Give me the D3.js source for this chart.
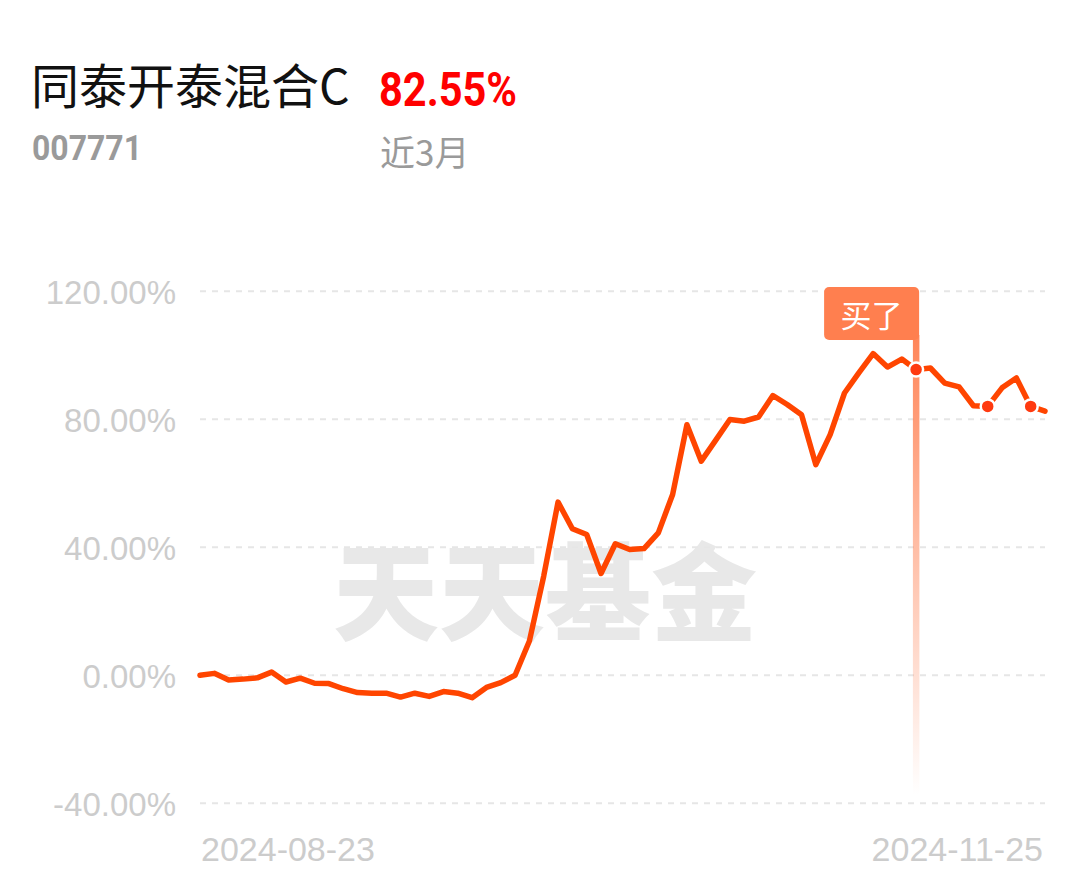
<!DOCTYPE html>
<html><head><meta charset="utf-8">
<script src="https://cdn.jsdelivr.net/npm/d3@7"></script>
<style>html,body{margin:0;padding:0;background:#fff;}svg{display:block;}</style>
</head><body>
<svg id="chart" width="1089" height="881"></svg>
<script>
// ---- data ----
const fundName = "同泰开泰混合C";
const fundCode = "007771";
const periodReturn = "82.55%";
const periodLabel = "近3月";
const dateLabels = ["2024-08-23", "2024-11-25"];
const yTicks = [-40, 0, 40, 80, 120];
const returns = [
  0.0, 0.6, -1.5, -1.2, -0.8, 1.0, -2.1, -0.9, -2.5, -2.6,
  -4.2, -5.4, -5.6, -5.6, -6.8, -5.6, -6.6, -5.1, -5.6, -7.0,
  -3.8, -2.3, 0.0, 10.7, 31.0, 54.1, 45.8, 44.0, 31.8, 41.1,
  39.3, 39.6, 44.5, 56.5, 78.3, 66.9, 73.4, 79.9, 79.4, 80.7,
  87.4, 84.6, 81.4, 65.8, 75.2, 88.2, 94.5, 100.5, 96.3, 98.8,
  95.5, 96.0, 91.3, 90.1, 84.2, 84.0, 89.8, 92.9, 84.0, 82.55
];
const buyIndex = 50;
const markerIndices = [50, 55, 58];
const buyLabel = "买了";
const watermark = "天天基金";

// ---- layout ----
const svg = d3.select("#chart");
const x = d3.scaleLinear().domain([0, returns.length - 1]).range([200, 1045]);
const y = d3.scaleLinear().domain([-40, 120]).range([803.3, 291.2]);

// header
svg.append("text").attr("x", 31).attr("y", 104)
  .attr("font-family", "'Noto Sans CJK SC', sans-serif").attr("font-size", 48)
  .attr("fill", "#111").text(fundName);
svg.append("text").attr("x", 379).attr("y", 106)
  .attr("font-family", "Roboto, sans-serif").attr("font-weight", 700).attr("font-size", 48)
  .attr("textLength", 138).attr("lengthAdjust", "spacingAndGlyphs")
  .attr("fill", "#ff0000").text(periodReturn);
svg.append("text").attr("x", 32).attr("y", 160)
  .attr("font-family", "Roboto, sans-serif").attr("font-weight", 700).attr("font-size", 35)
  .attr("textLength", 110).attr("lengthAdjust", "spacingAndGlyphs")
  .attr("fill", "#9a9a9a").text(fundCode);
svg.append("text").attr("x", 380).attr("y", 166)
  .attr("font-family", "'Noto Sans CJK SC', sans-serif").attr("font-size", 35)
  .attr("fill", "#9a9a9a").text(periodLabel);

// watermark
svg.append("text").attr("x", 545).attr("y", 632).attr("text-anchor", "middle")
  .attr("font-family", "'Noto Sans CJK SC', sans-serif").attr("font-weight", 900)
  .attr("font-size", 106).attr("fill", "#e8e8e8").text(watermark);

// grid
const grid = svg.append("g");
grid.selectAll("line").data(yTicks).join("line")
  .attr("x1", 200).attr("x2", 1045)
  .attr("y1", d => y(d)).attr("y2", d => y(d))
  .attr("stroke", "#e6e6e6").attr("stroke-width", 2).attr("stroke-dasharray", "6,6");

// y axis labels
const yAxis = d3.axisLeft(y).tickValues(yTicks).tickSize(0).tickPadding(0)
  .tickFormat(d => d.toFixed(2) + "%");
const ya = svg.append("g").attr("transform", "translate(176,0)").call(yAxis);
ya.select(".domain").remove();
ya.selectAll("text").attr("font-family", "'Liberation Sans', Arial, sans-serif")
  .attr("font-size", 33).attr("fill", "#cccccc").attr("dy", "0.36em");

// x axis labels
const xa = svg.append("g");
xa.append("text").attr("x", x(0) + 1).attr("y", 861)
  .attr("font-family", "'Liberation Sans', Arial, sans-serif").attr("font-size", 34)
  .attr("fill", "#cccccc").text(dateLabels[0]);
xa.append("text").attr("x", x(returns.length - 1) - 2).attr("y", 861).attr("text-anchor", "end")
  .attr("font-family", "'Liberation Sans', Arial, sans-serif").attr("font-size", 34)
  .attr("fill", "#cccccc").text(dateLabels[1]);

// buy marker vertical gradient bar
const defs = svg.append("defs");
const grad = defs.append("linearGradient").attr("id", "buyGrad")
  .attr("x1", 0).attr("y1", 0).attr("x2", 0).attr("y2", 1);
grad.append("stop").attr("offset", "0%").attr("stop-color", "#ff7f50").attr("stop-opacity", 0.95);
grad.append("stop").attr("offset", "100%").attr("stop-color", "#ff7f50").attr("stop-opacity", 0);
svg.append("rect").attr("x", x(buyIndex) - 3.2).attr("y", 335).attr("width", 6.5)
  .attr("height", 460).attr("fill", "url(#buyGrad)");

// line
const line = d3.line().x((d, i) => x(i)).y(d => y(d));
svg.append("path").datum(returns).attr("d", line)
  .attr("fill", "none").attr("stroke", "#ff4500").attr("stroke-width", 5.5)
  .attr("stroke-linejoin", "round").attr("stroke-linecap", "round");

// label box
const bx = x(buyIndex) + 3 - 95;
svg.append("rect").attr("x", bx).attr("y", 287).attr("width", 95).attr("height", 53)
  .attr("rx", 5).attr("fill", "#ff7f4f");
svg.append("text").attr("x", bx + 47.5).attr("y", 327).attr("text-anchor", "middle")
  .attr("font-family", "'Noto Sans CJK SC', sans-serif").attr("font-size", 31)
  .attr("fill", "#fff").text(buyLabel);

// markers
svg.append("g").selectAll("circle").data(markerIndices).join("circle")
  .attr("cx", d => x(d)).attr("cy", d => y(returns[d])).attr("r", 7)
  .attr("fill", "#ff3a10").attr("stroke", "#fff").attr("stroke-width", 2.5);
</script>
</body></html>
